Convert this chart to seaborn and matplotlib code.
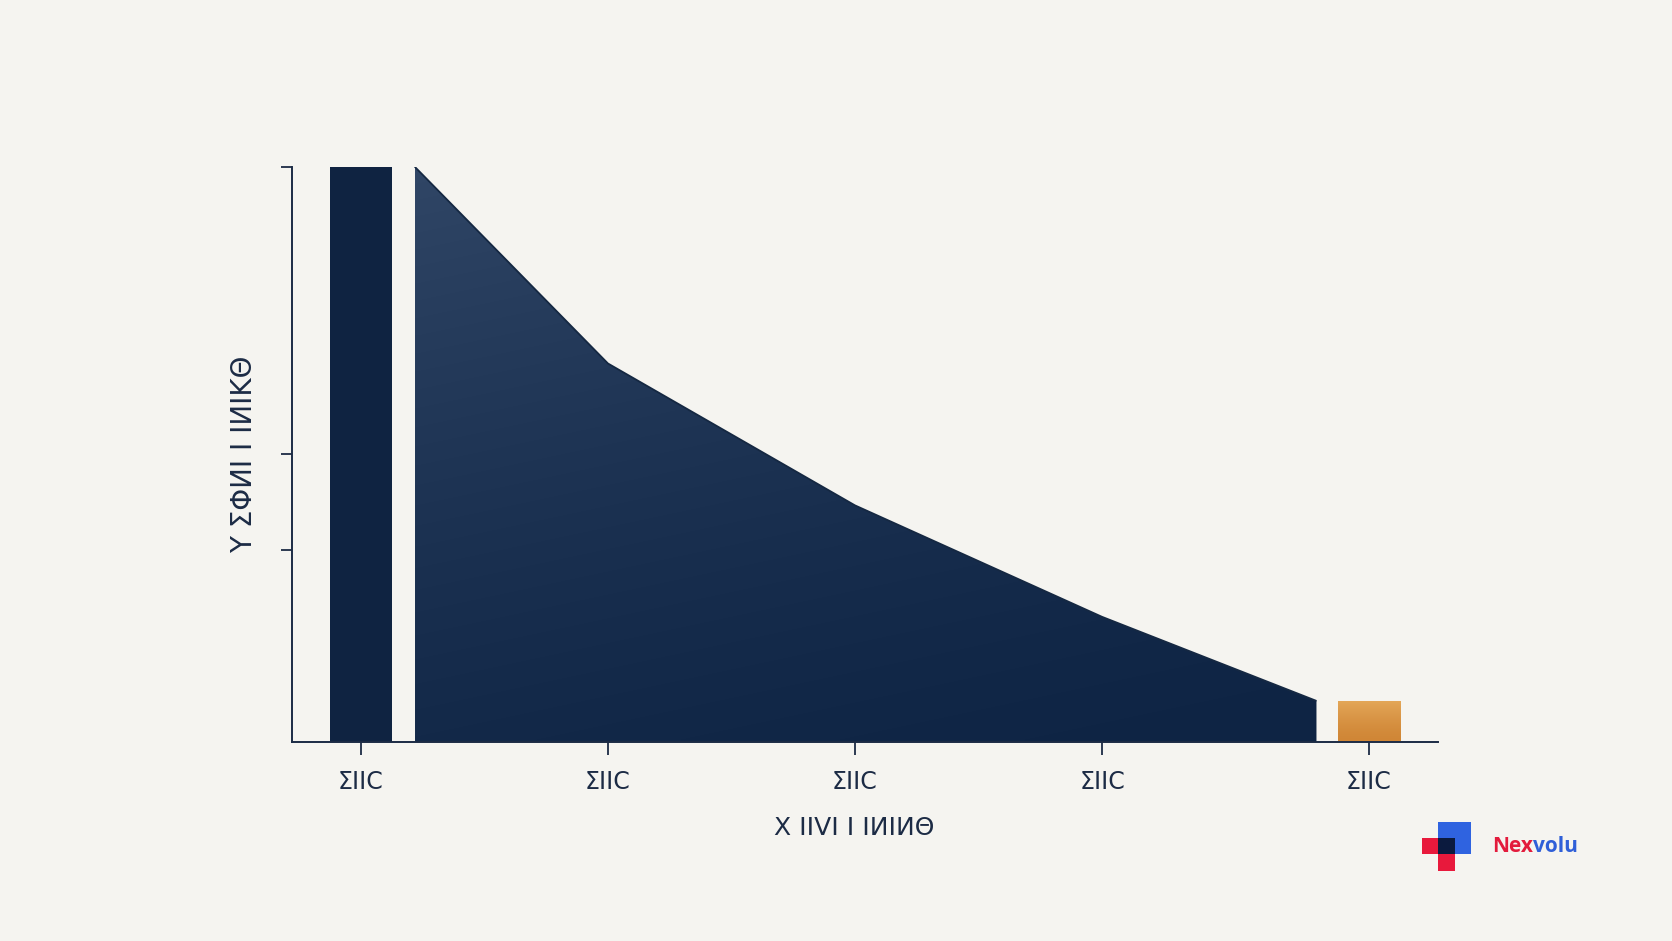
import matplotlib.pyplot as plt
import numpy as np
import seaborn as sns
from matplotlib.colors import to_rgb
from matplotlib.patches import Rectangle

# Chart data
tick_pos = [0, 1, 2, 3, 4.08]
tick_labels = ["ΣIIC", "ΣIIC", "ΣIIC", "ΣIIC", "ΣIIC"]
bar_x = [0, 4.08]
bar_y = [1.0, 0.070]
bar_group = ["first", "last"]
area_x = [0.219, 1, 2, 3, 3.866]
area_y = [1.0, 0.658, 0.411, 0.217, 0.071]
y_ticks = [1 / 3, 0.5, 1.0]
x_title = "X IIVI I IИIИΘ"
y_title = "Y ΣΦИI I IИIKΘ"

BG = "#f5f4f0"
NAVY = "#0f2341"
AXIS = "#1c2b45"
ORANGE = "#db9645"

W, H = 1672, 941


def gradient_fill(ax, clip, extent, top, bottom, tilt=0.0, zorder=2.1):
    """Paint a vertical (optionally tilted) gradient clipped to a shape."""
    ny, nx = 200, 200
    yy, xx = np.mgrid[0:1:ny * 1j, 0:1:nx * 1j]
    t = np.clip((1 - tilt) * yy + tilt * (1 - xx), 0, 1) ** 1.4
    c0, c1 = np.array(to_rgb(bottom)), np.array(to_rgb(top))
    img = c0 + (c1 - c0) * t[..., None]
    im = ax.imshow(img, extent=extent, origin="lower", aspect="auto",
                   zorder=zorder, interpolation="bilinear")
    if isinstance(clip, Rectangle):
        im.set_clip_path(clip)
    else:
        im.set_clip_path(clip.get_paths()[0], ax.transData)
    return im


def main():
    sns.set_theme(style="ticks")
    plt.rcParams["font.family"] = ["DejaVu Sans"]

    fig = plt.figure(figsize=(W / 100, H / 100), dpi=100, facecolor=BG)
    ax = fig.add_axes([292 / W, 1 - 741.5 / H, 1146 / W, 574.5 / H])
    ax.set_facecolor(BG)

    # Bars at native x positions
    sns.barplot(x=bar_x, y=bar_y, hue=bar_group, palette=[NAVY, ORANGE],
                native_scale=True, width=0.251 / 4.08, dodge=False,
                saturation=1, legend=False, linewidth=0, ax=ax)
    bars = [p for p in ax.patches if isinstance(p, Rectangle)]
    for b in bars:
        b.set_zorder(2)
    orange = max(bars, key=lambda p: p.get_x())
    ox, ow, oh = orange.get_x(), orange.get_width(), orange.get_height()
    gradient_fill(ax, orange, [ox, ox + ow, 0, oh], "#e4a859", "#d08636")

    # Area
    poly = ax.fill_between(area_x, area_y, 0, color=NAVY, linewidth=0, zorder=2)
    gradient_fill(ax, poly, [area_x[0], area_x[-1], 0, max(area_y)],
                  "#304666", "#0e2444", tilt=0.25)
    sns.lineplot(x=area_x, y=area_y, color="#152842", linewidth=1.3,
                 ax=ax, zorder=3)

    ax.set_xlim(-0.279, 4.360)
    ax.set_ylim(0, 1.0)

    # Axes styling
    sns.despine(ax=ax)
    for side in ["left", "bottom"]:
        ax.spines[side].set_color(AXIS)
        ax.spines[side].set_linewidth(1.4)
        ax.spines[side].set_zorder(4)
    ax.set_yticks(y_ticks)
    ax.set_yticklabels([])
    ax.set_xticks(tick_pos)
    ax.set_xticklabels(tick_labels)
    ax.tick_params(axis="y", length=8, width=1.3, color=AXIS)
    ax.tick_params(axis="x", length=9.5, width=1.3, color=AXIS, pad=11,
                   labelsize=17, labelcolor=AXIS)

    ax.set_xlabel(x_title, fontsize=18, color=AXIS)
    ax.xaxis.set_label_coords(0.491, -0.130)
    ax.set_ylabel(y_title, fontsize=20, color=AXIS)
    ax.yaxis.set_label_coords(-0.030, 0.5)

    # Brand mark bottom right
    def fx(px):
        return px / W

    def fy(py):
        return 1 - py / H

    for x0, y0, x1, y1, col in [
        (1438, 822, 1471, 854, "#2f63e0"),
        (1422, 838, 1438, 854, "#e8193c"),
        (1438, 854, 1455, 871, "#e8193c"),
        (1438, 838, 1455, 854, "#0b1a3e"),
    ]:
        fig.patches.append(Rectangle((fx(x0), fy(y1)), fx(x1) - fx(x0),
                                     fy(y0) - fy(y1), transform=fig.transFigure,
                                     color=col, linewidth=0))
    nex = fig.text(fx(1492), fy(847), "Nex", color="#e31b3c", fontsize=15,
                   fontweight="bold", family=["Open Sans", "DejaVu Sans"],
                   va="center", ha="left")
    fig.canvas.draw()
    ax.annotate("volu", xy=(1, 0), xycoords=nex, color="#2f5fd8", fontsize=15,
                fontweight="bold", family=["Open Sans", "DejaVu Sans"],
                va="bottom", ha="left", annotation_clip=False)

    fig.savefig("out.png", dpi=100, facecolor=BG)


if __name__ == "__main__":
    main()
